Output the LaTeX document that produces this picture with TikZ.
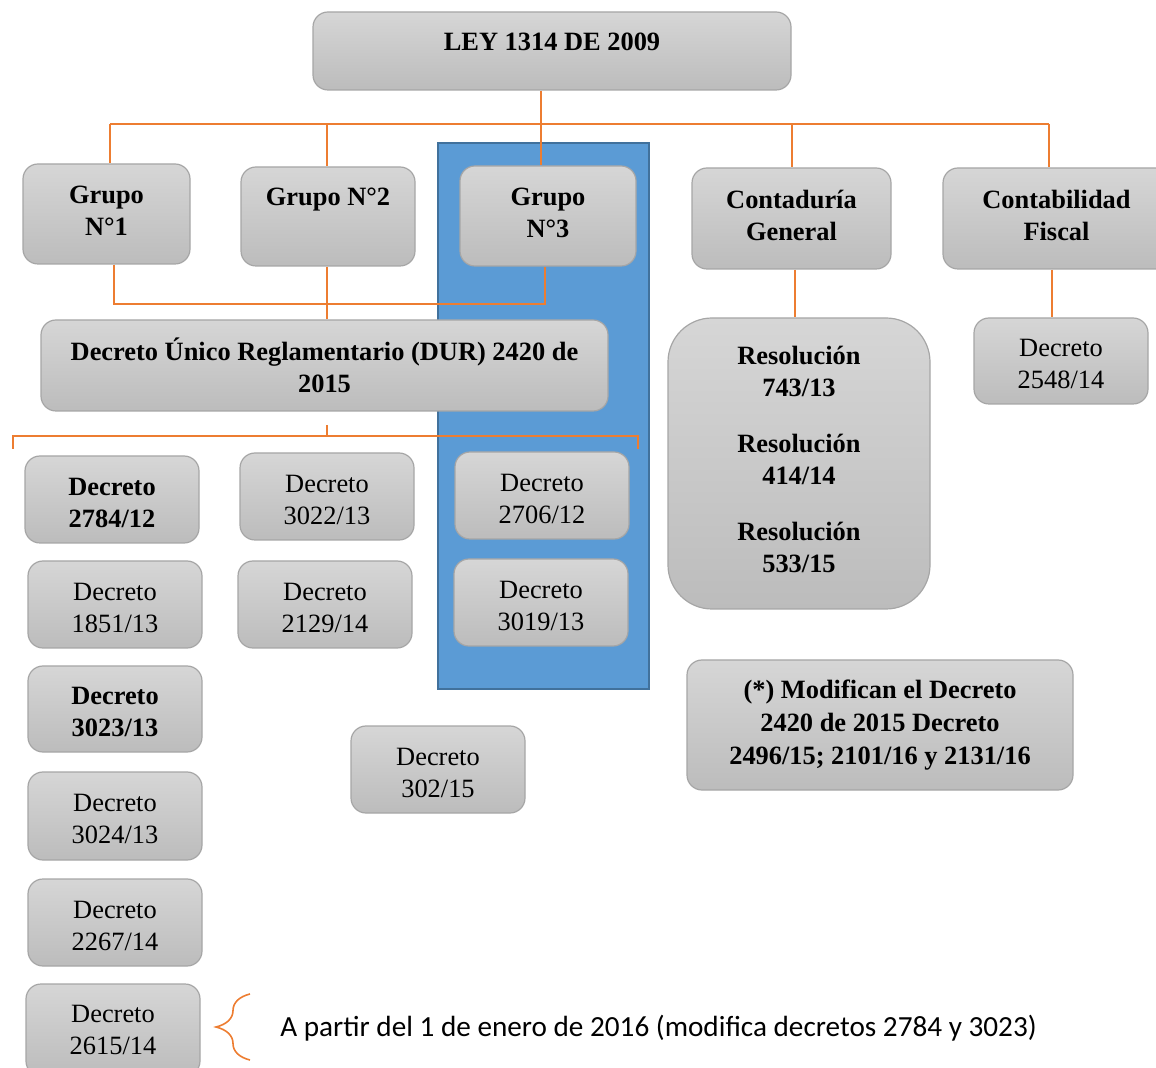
\documentclass[tikz,border=0pt]{standalone}
\usepackage{fontspec}
\setmainfont{Liberation Serif}
\newfontfamily\calibri{Carlito}
\usetikzlibrary{decorations.pathreplacing}
\definecolor{boxtop}{HTML}{D6D6D6}
\definecolor{boxbot}{HTML}{BCBCBC}
\definecolor{boxline}{HTML}{A6A6A6}
\definecolor{org}{HTML}{ED7D31}
\definecolor{blu}{HTML}{5B9BD5}
\definecolor{bluline}{HTML}{41719C}
% [text style]{name}{x1}{y1}{x2}{y2}{text dy}{text}  -- box plus its text
\newcommand\bx[8][]{\node[box,minimum width={(#5-#3)*0.5pt},minimum height={(#6-#4)*0.5pt}] (#2) at ({(#3+#5)/2},{(#4+#6)/2}) {};
  \node[txt,#1] (#2-t) at ({(#3+#5)/2},{(#4+#6)/2+#7}) {#8};}
\begin{document}
\begin{tikzpicture}[x=0.5pt,y=-0.5pt,
  box/.style={draw=boxline, line width=0.6pt, rounded corners=7.5pt, top color=boxtop, bottom color=boxbot, inner sep=0pt},
  txt/.style={align=center, inner sep=0pt, font=\fontsize{13.2}{16}\selectfont},
  bb/.style={font=\fontsize{13.2}{16}\selectfont\bfseries},
  conn/.style={draw=org, line width=0.8pt}]
\useasboundingbox (0,0) rectangle (1156,1068);
% blue band
\draw[fill=blu, draw=bluline, line width=1.3pt] (438,143) rectangle (649,689);
% top
\bx[bb]{ley}{313}{12}{791}{90}{-9}{LEY 1314 DE 2009}
\bx[bb]{g1}{23}{164}{190}{264}{-3}{Grupo\\N°1}
\bx[bb]{g2}{241}{167}{415}{266}{-17}{Grupo N°2}
\bx[bb]{g3}{460}{166}{636}{266}{-3}{Grupo\\N°3}
\bx[bb]{cg}{692}{168}{891}{269}{-3.5}{Contaduría\\General}
\bx[bb]{cf}{943}{168}{1170}{269}{-3.5}{Contabilidad\\Fiscal}
\bx[bb]{dur}{41}{320}{608}{411}{-0.5}{Decreto Único Reglamentario (DUR) 2420 de\\2015}
% column 1
\bx[bb]{d2784}{25}{456}{199}{543}{3.5}{Decreto\\2784/12}
\bx{d1851}{28}{561}{202}{648}{3}{Decreto\\1851/13}
\bx[bb]{d3023}{28}{666}{202}{752}{3}{Decreto\\3023/13}
\bx{d3024}{28}{772}{202}{860}{3}{Decreto\\3024/13}
\bx{d2267}{28}{879}{202}{966}{3}{Decreto\\2267/14}
\bx{d2615}{26}{984}{200}{1076}{-0.5}{Decreto\\2615/14}
% column 2
\bx{d3022}{240}{453}{414}{540}{3}{Decreto\\3022/13}
\bx{d2129}{238}{561}{412}{648}{3}{Decreto\\2129/14}
% column 3
\bx{d2706}{455}{452}{629}{539}{3}{Decreto\\2706/12}
\bx{d3019}{454}{559}{628}{646}{3}{Decreto\\3019/13}
\bx{d302}{351}{726}{525}{813}{3.5}{Decreto\\302/15}
% right side
\node[box,rounded corners=22pt,minimum width=131pt,minimum height=145.5pt] (res) at (799,463.5) {};
\node[txt,bb] (res-t) at (799,459) {Resolución\\743/13\\[12pt]Resolución\\414/14\\[12pt]Resolución\\533/15};
\bx{d2548}{974}{318}{1148}{404}{3}{Decreto\\2548/14}
\bx[bb,font=\fontsize{13.2}{16.5}\selectfont\bfseries]{mod}{687}{660}{1073}{790}{0.5}{(*) Modifican el Decreto\\2420 de 2015 Decreto\\2496/15; 2101/16 y 2131/16}
% connectors
\coordinate (b1) at (110,124);
\coordinate (b2) at (327,124);
\coordinate (b3) at (541,124);
\coordinate (b4) at (792,124);
\coordinate (b5) at (1049,124);
\draw[conn] (b1) -- (b5);
\draw[conn] (b3 |- ley.south) -- (b3 |- g3.north);
\draw[conn] (b1) -- (b1 |- g1.north);
\draw[conn] (b2) -- (b2 |- g2.north);
\draw[conn] (b4) -- (b4 |- cg.north);
\draw[conn] (b5) -- (b5 |- cf.north);
\coordinate (l1) at (114,304);
\coordinate (l3) at (545,304);
\draw[conn] (l1 |- g1.south) -- (l1) -- (l3) -- (l3 |- g3.south);
\draw[conn] (b2 |- g2.south) -- (b2 |- dur.north);
\coordinate (k0) at (327,425);
\coordinate (k1) at (327,436);
\coordinate (kl) at (13,436);
\coordinate (kr) at (638,436);
\draw[conn] (k0) -- (k1);
\draw[conn] ([yshift=-6.5pt]kl) -- (kl) -- (kr) -- ([yshift=-6.5pt]kr);
\coordinate (r1) at (795,300);
\draw[conn] (r1 |- cg.south) -- (r1 |- res.north);
\coordinate (r2) at (1052,300);
\draw[conn] (r2 |- cf.south) -- (r2 |- d2548.north);
% brace and note
\coordinate (brb) at (250,1060);
\coordinate (brt) at (250,994);
\draw[conn, decorate, decoration={brace, amplitude=17pt}] (brb) -- (brt);
\node[anchor=west, inner sep=0pt, font=\calibri\fontsize{14.6}{17}\selectfont] (note) at (280,1028) {A partir del 1 de enero de 2016 (modifica decretos 2784 y 3023)};
\end{tikzpicture}
\end{document}
